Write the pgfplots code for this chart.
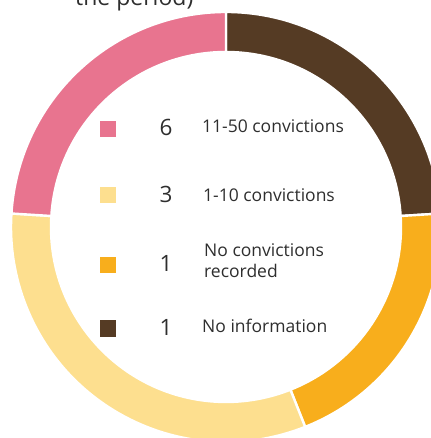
\documentclass[border=0pt]{standalone}
\usepackage{pgfplots}
\pgfplotsset{compat=1.18}
\usepackage{pgfplotstable}
\usepackage{fontspec}
\setmainfont{Open Sans}

\definecolor{segpink}{HTML}{E8748F}
\definecolor{segcream}{HTML}{FDDF8F}
\definecolor{segorange}{HTML}{F8AE1C}
\definecolor{segbrown}{HTML}{553B24}
\definecolor{txt}{HTML}{2E2E2E}

% ring shares, clockwise from twelve o'clock
\pgfplotstableread{
share colour
6 segbrown
5 segorange
8 segcream
6 segpink
}\ringdata

\newcommand\lbl{\fontsize{17.5bp}{20bp}\selectfont}
\newcommand\num{\fontsize{22.5bp}{26bp}\selectfont}

\pgfplotsset{legend key/.style={only marks, mark=square*, mark size=7.8bp,
  color=#1, mark options={draw=#1, fill=#1, line width=0pt}}}

\begin{document}
\begin{tikzpicture}
\begin{axis}[name=ring, x=1bp, y=1bp, xmin=0, xmax=430, ymin=0, ymax=438,
  hide axis, clip=false]

  % the ring
  \pgfplotsextra{%
    \pgfplotstablegetrowsof{\ringdata}%
    \pgfmathtruncatemacro\lastrow{\pgfplotsretval-1}%
    \def\ringtotal{0}%
    \pgfplotsforeachungrouped \i in {0,...,\lastrow}{%
      \pgfplotstablegetelem{\i}{share}\of\ringdata
      \pgfmathsetmacro\ringtotal{\ringtotal+\pgfplotsretval}%
    }%
    \def\startangle{90}%
    \pgfplotsforeachungrouped \i in {0,...,\lastrow}{%
      \pgfplotstablegetelem{\i}{share}\of\ringdata
      \pgfmathsetmacro\endangle{\startangle-360*\pgfplotsretval/\ringtotal}%
      \pgfplotstablegetelem{\i}{colour}\of\ringdata
      \let\segcolour\pgfplotsretval
      \path[overlay, fill=\segcolour, draw=white, line width=2.4bp]
        ([shift={(\startangle:215bp)}]axis cs:226,211)
          arc[start angle=\startangle, end angle=\endangle, radius=215bp]
        -- ([shift={(\endangle:175bp)}]axis cs:226,211)
          arc[start angle=\endangle, end angle=\startangle, radius=175bp]
        -- cycle;
      \let\startangle\endangle
    }%
  }

  % legend keys
  \addplot[legend key=segpink]   coordinates {(108,308.8)};
  \addplot[legend key=segcream]  coordinates {(108,243)};
  \addplot[legend key=segorange] coordinates {(108,173)};
  \addplot[legend key=segbrown]  coordinates {(108,109.3)};

  % counts
  \node[anchor=base, text=txt, font=\num] at (axis cs:166,302) {6};
  \node[anchor=base, text=txt, font=\num] at (axis cs:166,235) {3};
  \node[anchor=base, text=txt, font=\num] at (axis cs:166,166) {1};
  \node[anchor=base, text=txt, font=\num] at (axis cs:166,102) {1};

  % categories
  \node[anchor=base west, inner xsep=0pt, text=txt, font=\lbl] at (axis cs:202,305) {11-50 convictions};
  \node[anchor=base west, inner xsep=0pt, text=txt, font=\lbl] at (axis cs:203,236) {1-10 convictions};
  \node[anchor=base west, inner xsep=0pt, text=txt, font=\lbl] at (axis cs:204,181) {No convictions};
  \node[anchor=base west, inner xsep=0pt, text=txt, font=\lbl] at (axis cs:204,160) {recorded};
  \node[anchor=base west, inner xsep=0pt, text=txt, font=\lbl] at (axis cs:202,105) {No information};

  % end of the heading above the ring
  \node[overlay, anchor=base west, inner xsep=0pt, text=txt, font=\fontsize{23bp}{27bp}\selectfont]
    at (axis cs:75,432) {the period)};
\end{axis}
\pgfresetboundingbox
\useasboundingbox (ring.south west) rectangle (ring.north east);
\end{tikzpicture}
\end{document}
